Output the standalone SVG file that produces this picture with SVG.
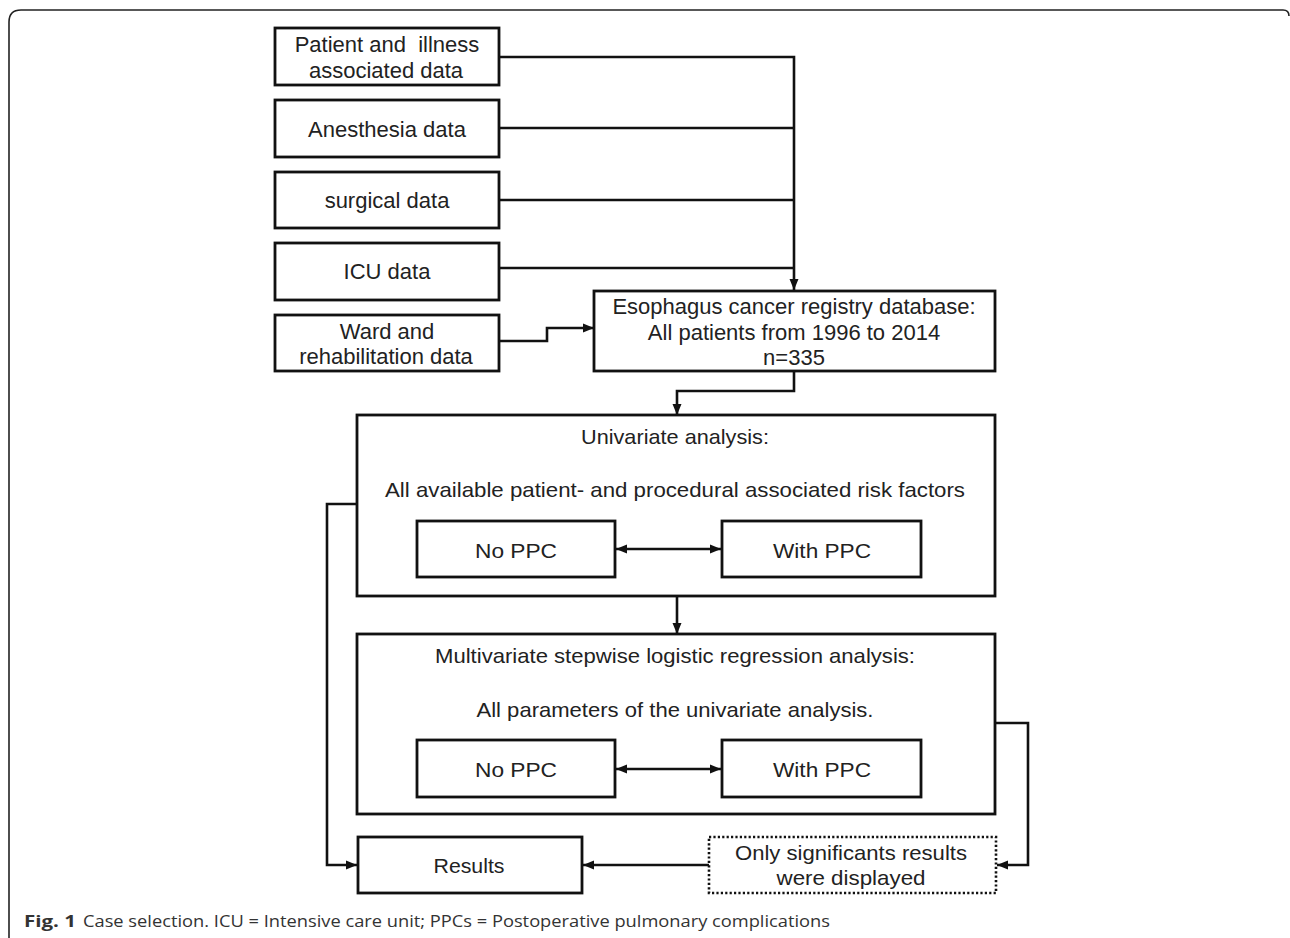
<svg xmlns="http://www.w3.org/2000/svg" width="1290" height="938" viewBox="0 0 1290 938">
<style>
.bx{fill:#fff;stroke:#111;stroke-width:2.8}
.dot{fill:#fff;stroke:#111;stroke-width:2.6;stroke-dasharray:2.2 2.2}
.ln{fill:none;stroke:#111;stroke-width:2.6}
.t{font-family:"Liberation Sans",Arial,sans-serif;font-size:22px;fill:#222;text-anchor:middle}
.c{font-family:"Liberation Sans",Arial,sans-serif;font-size:21px;fill:#222;text-anchor:middle}
.cap{font-family:"Open Sans","Noto Sans",sans-serif;font-size:16.5px;fill:#333}
.frame{fill:none;stroke:#222;stroke-width:1.6}
.pre{white-space:pre}
</style>
<defs>
<marker id="ah" markerUnits="userSpaceOnUse" markerWidth="12" markerHeight="10" refX="11" refY="5" orient="auto-start-reverse">
<path d="M0,0.5 L11,5 L0,9.5 Z" fill="#111"/>
</marker>
</defs>
<rect width="1290" height="938" fill="#fff"/>
<path class="frame" d="M9,938 V22 Q9,10 21,10 H1283 Q1289,10 1289,16"/>

<g id="n-patient"><rect class="bx" x="275" y="28" width="224" height="57"/>
<text class="t pre" x="387" y="52" xml:space="preserve">Patient and  illness</text><text class="t" x="386" y="78">associated data</text></g>
<g id="n-anesthesia"><rect class="bx" x="275" y="100" width="224" height="57"/>
<text class="t" x="387" y="137">Anesthesia data</text></g>
<g id="n-surgical"><rect class="bx" x="275" y="172" width="224" height="56"/>
<text class="t" x="387" y="208">surgical data</text></g>
<g id="n-icu"><rect class="bx" x="275" y="243" width="224" height="57"/>
<text class="t" x="387" y="279">ICU data</text></g>
<g id="n-ward"><rect class="bx" x="275" y="315" width="224" height="56"/>
<text class="t" x="387" y="339">Ward and</text><text class="t" x="386" y="364">rehabilitation data</text></g>
<g id="n-registry"><rect class="bx" x="594" y="291" width="401" height="80"/>
<text class="t" x="794" y="314">Esophagus cancer registry database:</text>
<text class="t" x="794" y="340">All patients from 1996 to 2014</text>
<text class="t" x="794" y="365">n=335</text></g>

<g id="n-univariate"><rect class="bx" x="357" y="415" width="638" height="181"/>
<text class="c" x="675" y="444" textLength="188" lengthAdjust="spacingAndGlyphs">Univariate analysis:</text>
<text class="c" x="675" y="497" textLength="580" lengthAdjust="spacingAndGlyphs">All available patient- and procedural associated risk factors</text></g>
<g id="n-noppc1"><rect class="bx" x="417" y="521" width="198" height="56"/>
<text class="c" x="516" y="558" textLength="82" lengthAdjust="spacingAndGlyphs">No PPC</text></g>
<g id="n-withppc1"><rect class="bx" x="722" y="521" width="199" height="56"/>
<text class="c" x="822" y="558" textLength="98" lengthAdjust="spacingAndGlyphs">With PPC</text></g>

<g id="n-multivariate"><rect class="bx" x="357" y="634" width="638" height="180"/>
<text class="c" x="675" y="663" textLength="480" lengthAdjust="spacingAndGlyphs">Multivariate stepwise logistic regression analysis:</text>
<text class="c" x="675" y="717" textLength="397" lengthAdjust="spacingAndGlyphs">All parameters of the univariate analysis.</text></g>
<g id="n-noppc2"><rect class="bx" x="417" y="740" width="198" height="57"/>
<text class="c" x="516" y="777" textLength="82" lengthAdjust="spacingAndGlyphs">No PPC</text></g>
<g id="n-withppc2"><rect class="bx" x="722" y="740" width="199" height="57"/>
<text class="c" x="822" y="777" textLength="98" lengthAdjust="spacingAndGlyphs">With PPC</text></g>

<g id="n-results"><rect class="bx" x="358" y="837" width="224" height="56"/>
<text class="c" x="469" y="873" textLength="71" lengthAdjust="spacingAndGlyphs">Results</text></g>
<g id="n-significant"><rect class="dot" x="709" y="837" width="287" height="56"/>
<text class="c" x="851" y="860" textLength="232" lengthAdjust="spacingAndGlyphs">Only significants results</text>
<text class="c" x="851" y="885" textLength="149" lengthAdjust="spacingAndGlyphs">were displayed</text></g>

<g id="connectors">
<polyline class="ln" points="499,57 794,57 794,290" marker-end="url(#ah)"/>
<line class="ln" x1="499" y1="128" x2="794" y2="128"/>
<line class="ln" x1="499" y1="200" x2="794" y2="200"/>
<line class="ln" x1="499" y1="268" x2="794" y2="268"/>
<polyline class="ln" points="499,341 547,341 547,328 594,328" marker-end="url(#ah)"/>
<polyline class="ln" points="794,371 794,391 677,391 677,415" marker-end="url(#ah)"/>
<line class="ln" x1="677" y1="596" x2="677" y2="634" marker-end="url(#ah)"/>
<line class="ln" x1="616" y1="549" x2="721" y2="549" marker-start="url(#ah)" marker-end="url(#ah)"/>
<line class="ln" x1="616" y1="769" x2="721" y2="769" marker-start="url(#ah)" marker-end="url(#ah)"/>
<polyline class="ln" points="357,504 327,504 327,865 357,865" marker-end="url(#ah)"/>
<polyline class="ln" points="995,723 1028,723 1028,865 997,865" marker-end="url(#ah)"/>
<line class="ln" x1="709" y1="865" x2="583" y2="865" marker-end="url(#ah)"/>
</g>

<text class="cap" x="24" y="927" font-weight="bold" textLength="52" lengthAdjust="spacingAndGlyphs">Fig. 1</text>
<text class="cap" x="83" y="927" textLength="747" lengthAdjust="spacingAndGlyphs">Case selection. ICU = Intensive care unit; PPCs = Postoperative pulmonary complications</text>
</svg>
